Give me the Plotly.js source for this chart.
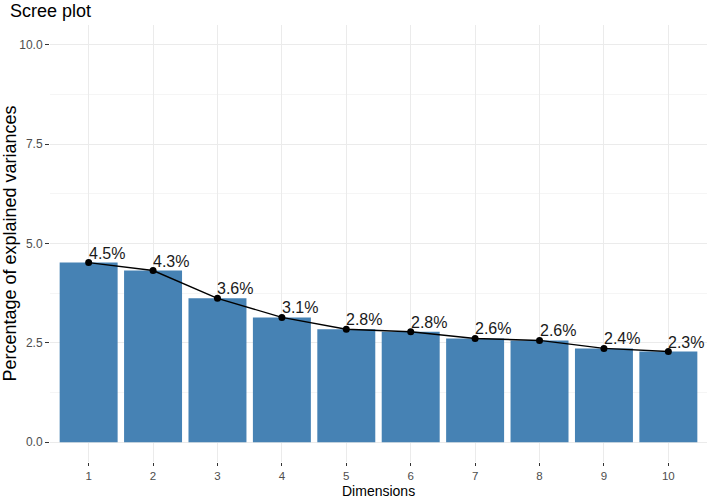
<!DOCTYPE html>
<html>
<head>
<meta charset="utf-8">
<script src="https://cdn.plot.ly/plotly-3.0.1.min.js"></script>
<style>html,body{margin:0;padding:0;background:#fff;}#chart{width:709px;height:499px;}</style>
</head>
<body>
<div id="chart"></div>
<script>
const dimensions = [1, 2, 3, 4, 5, 6, 7, 8, 9, 10];
const variances = [4.52, 4.32, 3.62, 3.14, 2.84, 2.78, 2.61, 2.56, 2.36, 2.28];
const labels = ["4.5%", "4.3%", "3.6%", "3.1%", "2.8%", "2.8%", "2.6%", "2.6%", "2.4%", "2.3%"];
const yTicks = [0, 2.5, 5, 7.5, 10];
const yTickText = ["0.0", "2.5", "5.0", "7.5", "10.0"];

const font = "Liberation Sans, Arial, Helvetica, sans-serif";

const bars = {
  type: "bar",
  x: dimensions,
  y: variances,
  width: 0.9,
  marker: {color: "#4682B4", line: {width: 0}},
  hoverinfo: "skip"
};
const line = {
  type: "scatter",
  mode: "lines+markers",
  x: dimensions,
  y: variances,
  line: {color: "#000000", width: 1.4},
  marker: {color: "#000000", size: 7},
  hoverinfo: "skip"
};

const annotations = dimensions.map((d, i) => ({
  x: d, y: variances[i], xref: "x", yref: "y",
  text: labels[i], showarrow: false,
  xanchor: "left", yanchor: "bottom",
  xshift: -2, yshift: -1,
  font: {family: font, size: 16, color: "#1a1a1a"}
}));

annotations.push({
  x: 0.5, y: 0, xref: "paper", yref: "paper",
  text: "Dimensions", showarrow: false,
  xanchor: "center", yanchor: "top",
  yshift: -20, borderpad: 0,
  font: {family: font, size: 14, color: "#000000"}
});

const layout = {
  width: 709, height: 499,
  margin: {l: 50, r: 2, t: 25, b: 37},
  paper_bgcolor: "#ffffff",
  plot_bgcolor: "#ffffff",
  showlegend: false,
  font: {family: font},
  title: {
    text: "Scree plot",
    xref: "container", yref: "container",
    x: 10/709, xanchor: "left",
    y: 1 - 11/499, yanchor: "middle",
    font: {family: font, size: 18, color: "#000000"}
  },
  xaxis: {
    range: [0.4, 10.6],
    tickvals: dimensions,
    ticktext: dimensions.map(String),
    showgrid: true, gridcolor: "#EBEBEB", gridwidth: 1,
    zeroline: false, showline: false,
    ticks: "outside", ticklen: 3, tickcolor: "#333333", tickwidth: 1,
    tickfont: {family: font, size: 11.5, color: "#4D4D4D"}
  },
  yaxis: {
    range: [-0.5, 10.5],
    tickvals: yTicks,
    ticktext: yTickText,
    showgrid: true, gridcolor: "#EBEBEB", gridwidth: 1,
    minor: {dtick: 1.25, tick0: 0, showgrid: true, gridcolor: "#F5F5F5", gridwidth: 1, ticks: ""},
    zeroline: false, showline: false,
    ticks: "outside", ticklen: 4, tickcolor: "#333333", tickwidth: 1,
    tickfont: {family: font, size: 12, color: "#4D4D4D"},
    title: {text: "Percentage of explained variances", font: {family: font, size: 18, color: "#000000"}, standoff: 2}
  },
  annotations: annotations
};

Plotly.newPlot("chart", [bars, line], layout, {displayModeBar: false, staticPlot: true});
</script>
</body>
</html>
